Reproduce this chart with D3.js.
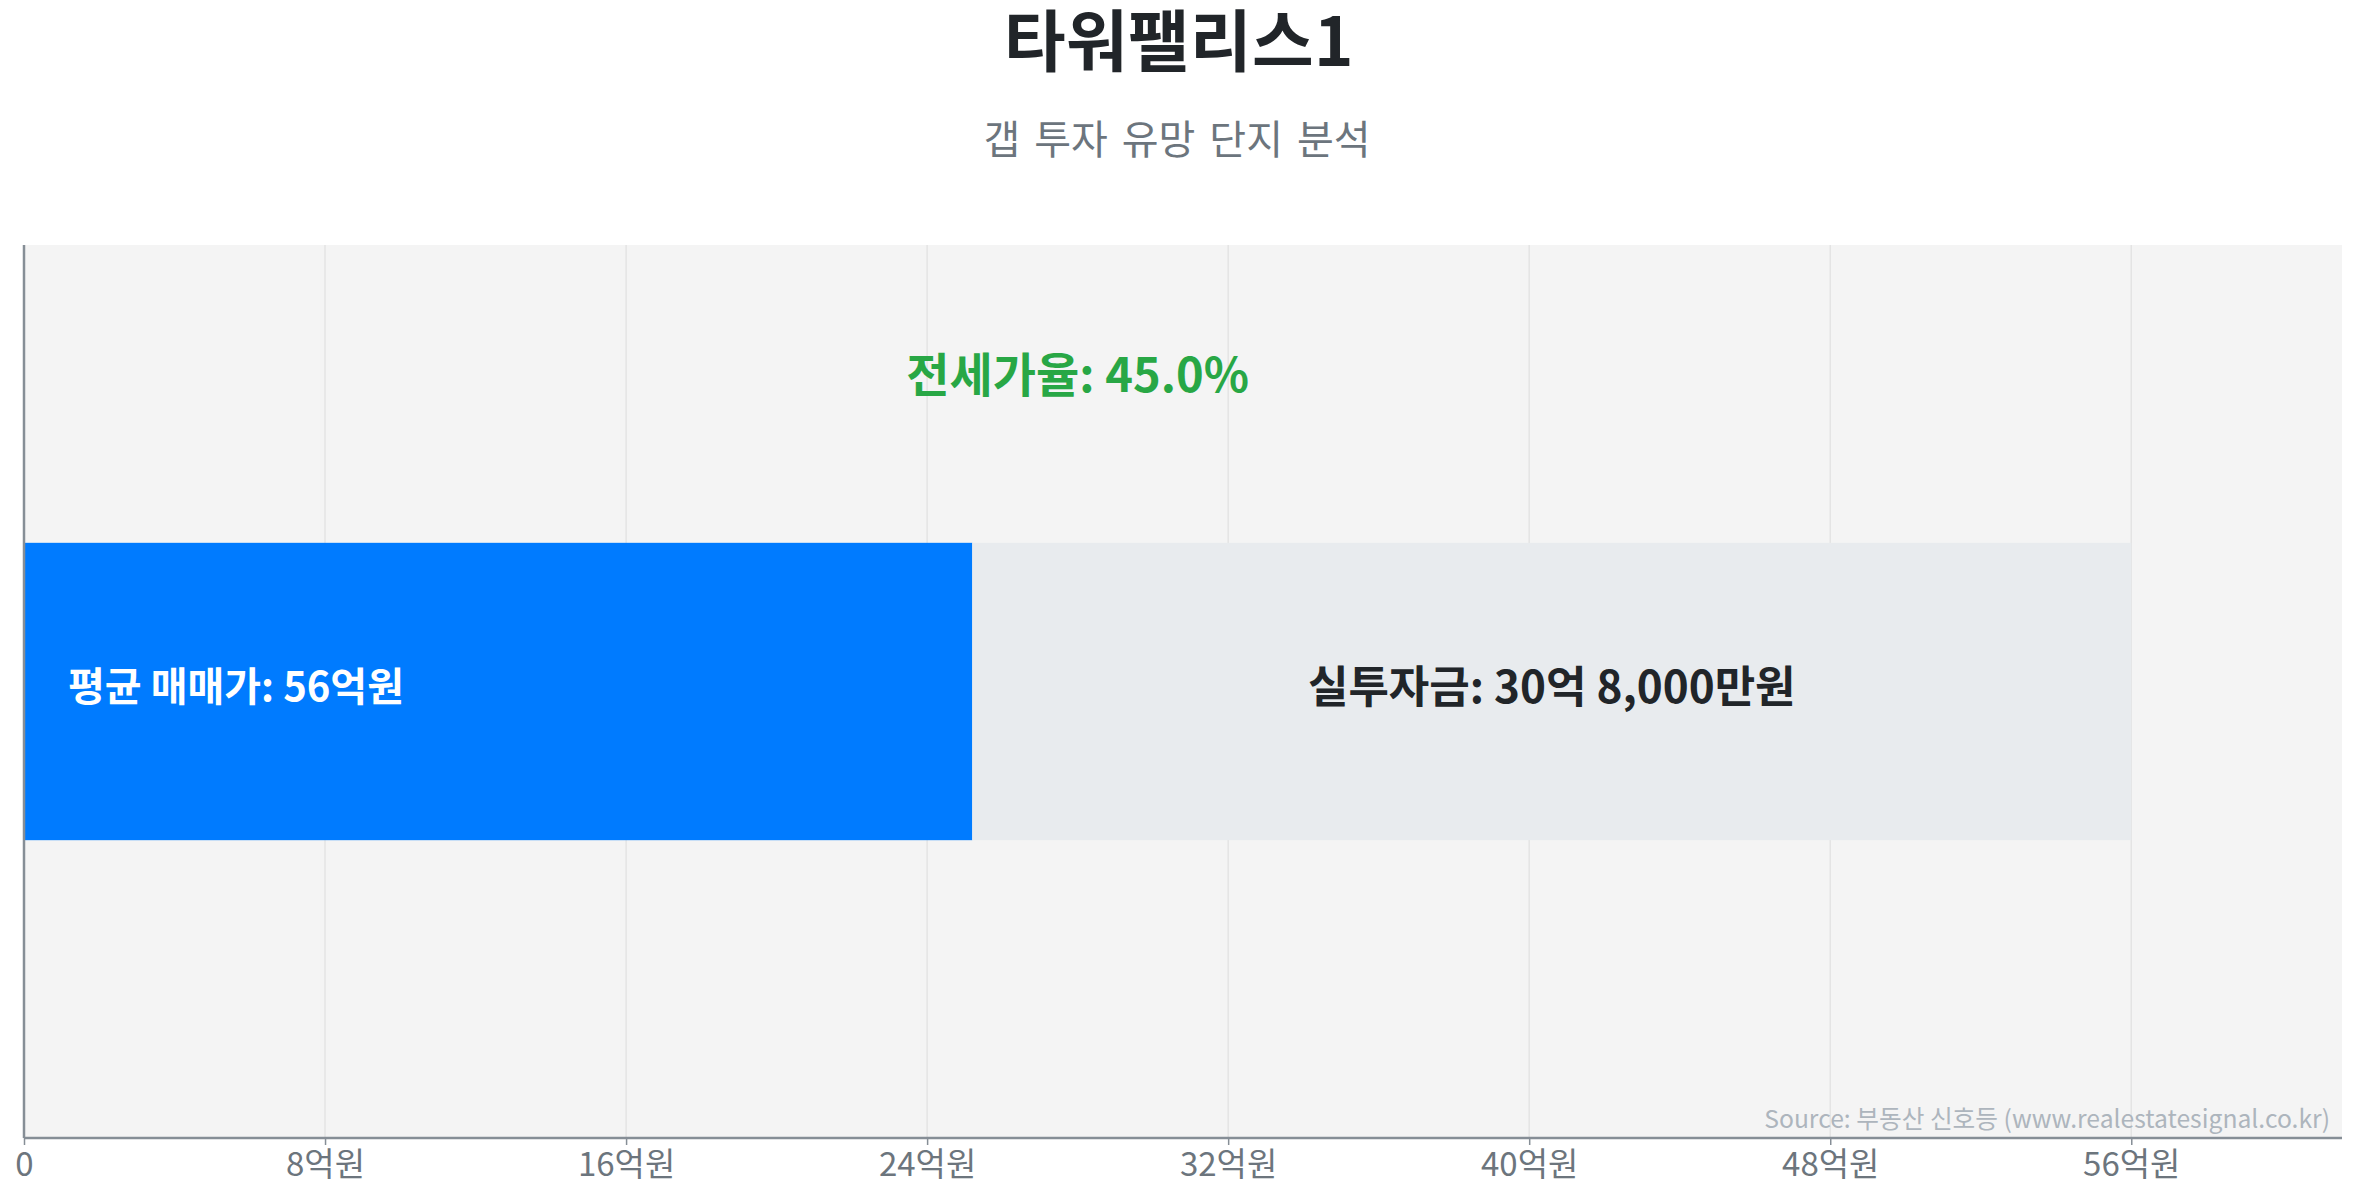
<!DOCTYPE html>
<html><head><meta charset="utf-8">
<script src="https://cdn.jsdelivr.net/npm/d3@7"></script>
<style>
@font-face{font-family:"TitleKR";src:local("Noto Sans CJK KR Bold"),local("NotoSansCJKkr-Bold"),local("Noto Sans CJK KR");
  font-weight:700;ascent-override:88%;descent-override:12%;line-gap-override:0%;}
html,body{margin:0;padding:0;background:#fff;}
body{position:relative;width:2357px;height:1200px;overflow:hidden;}
svg{display:block;font-family:"Noto Sans CJK KR","Noto Sans",sans-serif;}
#title{position:absolute;left:0;width:2357px;text-align:center;font-family:"TitleKR","Noto Sans CJK KR","Noto Sans",sans-serif;
  font-weight:700;color:#212529;white-space:nowrap;}
</style></head>
<body>
<svg id="c" width="2357" height="1200"></svg>
<div id="title"></div>
<script>
// ---- data ----
const titleText = "타워팰리스1";
const subtitleText = "갭 투자 유망 단지 분석";
const categories = ["타워팰리스1"];
const salePrice = [56];          // 평균 매매가 (억원)
const jeonseAmount = [25.2];     // 전세가 (억원) = 45% of 56
const gapAmount = [30.8];        // 실투자금 (억원)
const jeonseRatio = [45.0];      // %
const tickValues = [0, 8, 16, 24, 32, 40, 48, 56];
const tickLabels = ["0", "8억원", "16억원", "24억원", "32억원", "40억원", "48억원", "56억원"];
const saleLabel = ["평균 매매가: 56억원"];
const gapLabel = ["실투자금: 30억 8,000만원"];
const ratioLabel = ["전세가율: 45.0%"];
const sourceText = "Source: 부동산 신호등 (www.realestatesignal.co.kr)";

// ---- layout ----
const plot = {left: 24, right: 2342, top: 245, bottom: 1138};
const svg = d3.select("#c");

const x = d3.scaleLinear().domain([0, d3.max(salePrice) * 1.1]).range([plot.left, plot.right]);
const y = d3.scaleBand().domain(categories).range([plot.top, plot.bottom]).paddingInner(0.667).paddingOuter(0.333);

// title (HTML text, line box kept inside the page)
d3.select("#title").style("top", "7px").style("font-size", "67px").style("line-height", "67px").text(titleText);
svg.append("text").attr("x", 1177).attr("y", 137).attr("text-anchor", "middle")
  .attr("dominant-baseline", "central").attr("font-size", 40).attr("word-spacing", 5)
  .attr("fill", "#6c757d").text(subtitleText);

// plot background
svg.append("rect").attr("x", plot.left).attr("y", plot.top)
  .attr("width", plot.right - plot.left).attr("height", plot.bottom - plot.top).attr("fill", "#f4f4f4");

// grid
svg.append("g").selectAll("line").data(tickValues.slice(1)).join("line")
  .attr("x1", d => x(d)).attr("x2", d => x(d)).attr("y1", plot.top).attr("y2", plot.bottom)
  .attr("stroke", "#e4e4e4").attr("stroke-width", 1.5);

// bars
const cat = categories[0];
svg.append("g").selectAll("rect").data(categories).join("rect")
  .attr("x", x(0)).attr("y", d => y(d)).attr("height", y.bandwidth())
  .attr("width", (d, i) => x(jeonseAmount[i]) - x(0)).attr("fill", "#007bff");
svg.append("g").selectAll("rect").data(categories).join("rect")
  .attr("x", (d, i) => x(jeonseAmount[i])).attr("y", d => y(d)).attr("height", y.bandwidth())
  .attr("width", (d, i) => x(jeonseAmount[i] + gapAmount[i]) - x(jeonseAmount[i])).attr("fill", "#e8ebee");

// x axis
const xAxis = d3.axisBottom(x).tickValues(tickValues).tickFormat((d, i) => tickLabels[i]).tickSize(7).tickPadding(9);
const gx = svg.append("g").attr("transform", `translate(0,${plot.bottom})`).call(xAxis);
gx.select(".domain").attr("stroke", "#868e96").attr("stroke-width", 2.5)
  .attr("d", `M${plot.left},0H${plot.right}`);
gx.selectAll(".tick line").attr("stroke", "#868e96").attr("stroke-width", 1.5);
gx.selectAll(".tick text").attr("font-size", 33).attr("fill", "#6c757d")
  .attr("font-family", "'Noto Sans CJK KR','Noto Sans',sans-serif").attr("dy", "0.66em");

// y axis line
svg.append("line").attr("x1", plot.left).attr("x2", plot.left).attr("y1", plot.top).attr("y2", plot.bottom)
  .attr("stroke", "#868e96").attr("stroke-width", 2.5);

// labels
const cy = y(cat) + y.bandwidth() / 2;
svg.append("text").attr("x", x(0) + 44).attr("y", cy - 8).attr("dominant-baseline", "central")
  .attr("font-size", 40).attr("font-weight", 700).attr("fill", "#ffffff").text(saleLabel[0]);
svg.append("text").attr("x", (x(jeonseAmount[0]) + x(salePrice[0])) / 2).attr("y", cy - 8)
  .attr("text-anchor", "middle").attr("dominant-baseline", "central")
  .attr("font-size", 44).attr("font-weight", 700).attr("fill", "#212529").text(gapLabel[0]);
svg.append("text").attr("x", x(salePrice[0] / 2)).attr("y", 371)
  .attr("text-anchor", "middle").attr("dominant-baseline", "central")
  .attr("font-size", 47).attr("font-weight", 700).attr("fill", "#28a745").text(ratioLabel[0]);

// source
svg.append("text").attr("x", 2330).attr("y", 1128).attr("text-anchor", "end")
  .attr("font-size", 24.7).attr("fill", "#adb5bd").text(sourceText);
</script>
</body></html>
